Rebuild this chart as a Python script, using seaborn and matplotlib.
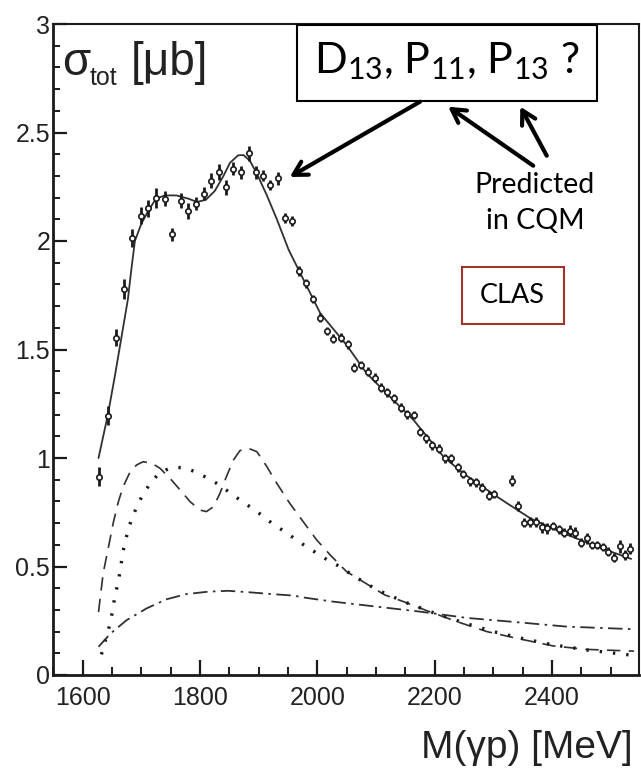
import numpy as np
import pandas as pd
import matplotlib
matplotlib.use("Agg")
import matplotlib.pyplot as plt
import matplotlib.patches as mpatches
from matplotlib.ticker import MultipleLocator
import seaborn as sns

# ---------------- data ----------------
data_x = [1627, 1643, 1657, 1671, 1684, 1699, 1712, 1725, 1740, 1752, 1767, 1780, 1793,
          1806, 1819, 1832, 1844, 1857, 1870, 1883, 1895, 1908, 1919, 1933, 1945, 1957,
          1969, 1981, 1993, 2005, 2017, 2027, 2040, 2052, 2063, 2074, 2086, 2098, 2109,
          2119, 2131, 2142, 2153, 2164, 2175, 2185, 2196, 2207, 2217, 2228, 2239, 2249,
          2260, 2271, 2281, 2292, 2301, 2332, 2342, 2352, 2363, 2372, 2383, 2392, 2402,
          2412, 2421, 2431, 2440, 2450, 2459, 2468, 2477, 2487, 2496, 2506, 2516, 2525, 2533]
data_y = [0.914, 1.195, 1.555, 1.779, 2.014, 2.117, 2.150, 2.197, 2.194, 2.032, 2.186, 2.138, 2.172,
          2.217, 2.277, 2.318, 2.247, 2.332, 2.317, 2.404, 2.317, 2.301, 2.258, 2.289, 2.106, 2.092,
          1.862, 1.805, 1.733, 1.647, 1.585, 1.550, 1.554, 1.524, 1.416, 1.429, 1.398, 1.370, 1.324,
          1.303, 1.275, 1.232, 1.201, 1.198, 1.120, 1.091, 1.058, 1.043, 0.998, 0.999, 0.957, 0.926,
          0.893, 0.888, 0.863, 0.826, 0.834, 0.895, 0.779, 0.702, 0.705, 0.705, 0.680, 0.676, 0.687,
          0.671, 0.656, 0.664, 0.656, 0.610, 0.630, 0.599, 0.599, 0.590, 0.568, 0.541, 0.594, 0.553, 0.581]
data_err = [0.045, 0.045, 0.040, 0.045, 0.040, 0.040, 0.040, 0.045, 0.035, 0.030, 0.035, 0.035, 0.030,
            0.030, 0.035, 0.035, 0.035, 0.030, 0.030, 0.035, 0.030, 0.025, 0.025, 0.030, 0.025, 0.025,
            0.025, 0.020, 0.020, 0.020, 0.020, 0.020, 0.020, 0.020, 0.020, 0.020, 0.020, 0.020, 0.020,
            0.020, 0.020, 0.020, 0.020, 0.020, 0.020, 0.020, 0.020, 0.020, 0.020, 0.020, 0.020, 0.020,
            0.020, 0.020, 0.020, 0.020, 0.020, 0.025, 0.025, 0.020, 0.025, 0.025, 0.025, 0.025, 0.020,
            0.020, 0.020, 0.025, 0.025, 0.020, 0.025, 0.020, 0.020, 0.020, 0.020, 0.020, 0.030, 0.025, 0.025]

fit_x = [1627, 1643, 1655, 1666, 1677, 1683, 1689, 1700, 1712, 1725, 1740, 1760, 1780, 1795, 1810,
         1825, 1840, 1851, 1865, 1874, 1885, 1897, 1914, 1931, 1951, 1969, 2005, 2050, 2084, 2118,
         2164, 2215, 2249, 2306, 2363, 2420, 2477, 2535]
fit_y = [1.00, 1.20, 1.38, 1.555, 1.73, 1.87, 2.00, 2.08, 2.14, 2.195, 2.21, 2.21, 2.195, 2.18, 2.19,
         2.23, 2.30, 2.36, 2.395, 2.396, 2.37, 2.31, 2.21, 2.10, 1.96, 1.862, 1.667, 1.52, 1.39, 1.298,
         1.175, 1.006, 0.929, 0.822, 0.722, 0.653, 0.591, 0.535]

dash_x = [1627, 1635, 1644, 1652, 1661, 1669, 1681, 1692, 1703, 1718, 1732, 1749, 1766, 1783, 1800,
          1811, 1823, 1834, 1845, 1857, 1868, 1882, 1897, 1914, 1931, 1953, 1976, 1999, 2022, 2050,
          2084, 2115, 2147, 2187, 2238, 2289, 2340, 2402, 2459, 2540]
dash_y = [0.29, 0.47, 0.59, 0.70, 0.80, 0.868, 0.937, 0.968, 0.983, 0.976, 0.952, 0.906, 0.853, 0.799, 0.760,
          0.753, 0.776, 0.837, 0.914, 0.991, 1.034, 1.045, 1.029, 0.960, 0.883, 0.791, 0.706, 0.622, 0.553, 0.476,
          0.420, 0.369, 0.338, 0.296, 0.246, 0.200, 0.169, 0.134, 0.118, 0.110]

dot_x = [1632, 1646, 1651, 1655, 1661, 1665, 1669, 1675, 1682, 1691, 1702, 1716, 1731, 1752, 1774,
         1793, 1814, 1833, 1851, 1870, 1889, 1907, 1925, 1945, 1963, 1982, 2001, 2019, 2039, 2060,
         2100, 2150, 2200, 2250, 2300, 2350, 2400, 2460, 2540]
dot_y = [0.095, 0.23, 0.296, 0.365, 0.433, 0.502, 0.573, 0.641, 0.707, 0.768, 0.829, 0.886, 0.932, 0.957, 0.955,
         0.935, 0.906, 0.876, 0.840, 0.803, 0.768, 0.733, 0.694, 0.660, 0.625, 0.590, 0.558, 0.527, 0.499, 0.46,
         0.395, 0.335, 0.285, 0.240, 0.200, 0.168, 0.140, 0.115, 0.090]

dd_x = [1627, 1647, 1675, 1709, 1743, 1777, 1814, 1848, 1885, 1922, 1959, 1982, 2027, 2101, 2175,
        2255, 2329, 2425, 2540]
dd_y = [0.13, 0.19, 0.253, 0.307, 0.349, 0.373, 0.384, 0.388, 0.381, 0.373, 0.366, 0.355, 0.338, 0.315, 0.292,
        0.263, 0.246, 0.223, 0.211]

x_ticks = [1600, 1800, 2000, 2200, 2400]
y_ticks = [0, 0.5, 1, 1.5, 2, 2.5, 3]
y_tick_labels = ["0", "0.5", "1", "1.5", "2", "2.5", "3"]

# ---------------- style ----------------
sns.set_theme(style="ticks")
plt.rcParams["font.family"] = ["Liberation Sans", "DejaVu Sans"]
plt.rcParams["mathtext.fontset"] = "custom"
plt.rcParams["mathtext.rm"] = "Lato"
plt.rcParams["mathtext.it"] = "Lato:italic"

W, H = 641, 771
fig = plt.figure(figsize=(W / 100, H / 100), dpi=100)
ax = fig.add_axes([53 / W, 1 - 675 / H, (639 - 53) / W, (675 - 24) / H])

ink = "#1a1a1a"
curve_col = "#303030"

# curves
sns.lineplot(x=fit_x, y=fit_y, ax=ax, color=curve_col, lw=1.3, sort=False, estimator=None)
sns.lineplot(x=dash_x, y=dash_y, ax=ax, color=curve_col, lw=1.2, dashes=(8, 5), sort=False, estimator=None)
sns.lineplot(x=dot_x, y=dot_y, ax=ax, color=ink, lw=2.4, dashes=(0.7, 3.3), sort=False, estimator=None)
sns.lineplot(x=dd_x, y=dd_y, ax=ax, color=curve_col, lw=1.3, dashes=(8, 3, 1.4, 3), sort=False, estimator=None)

# data points
ax.errorbar(data_x, data_y, yerr=data_err, fmt="none", ecolor=ink, elinewidth=2.0, zorder=4)
sns.scatterplot(x=data_x, y=data_y, ax=ax, s=15, marker="o", facecolor="white",
                edgecolor=ink, linewidth=1.2, zorder=5)

# axes
ax.set_xlim(1549.4, 2548.3)
ax.set_ylim(0, 3)
ax.set_xticks(x_ticks)
ax.set_yticks(y_ticks)
ax.set_yticklabels(y_tick_labels)
ax.xaxis.set_minor_locator(MultipleLocator(50))
ax.yaxis.set_minor_locator(MultipleLocator(0.1))
ax.tick_params(axis="both", which="both", direction="in", color=ink, labelcolor="#222222",
               labelsize=18, top=False, right=False)
ax.tick_params(axis="x", which="major", length=11, width=1.6, pad=8)
ax.tick_params(axis="x", which="minor", length=6, width=1.4)
ax.tick_params(axis="y", which="major", length=10, width=1.6, pad=2)
ax.tick_params(axis="y", which="minor", length=5, width=1.4)
for side in ["left", "bottom"]:
    ax.spines[side].set_linewidth(2.0)
    ax.spines[side].set_color(ink)
for side in ["top", "right"]:
    ax.spines[side].set_visible(True)
    ax.spines[side].set_linewidth(1.5)
    ax.spines[side].set_color(ink)
ax.set_xlabel("")
ax.set_ylabel("")

# axis titles
fig.text(62 / W, 1 - 75 / H, "σ", fontsize=33, color="#222222", ha="left", va="baseline")
fig.text(90 / W, 1 - 85 / H, "tot", fontsize=18, color="#222222", ha="left", va="baseline")
fig.text(131 / W, 1 - 75 / H, "[μb]", fontsize=33, color="#222222", ha="left", va="baseline")
fig.text(633 / W, 1 - 758 / H, "M(γp) [MeV]", fontsize=28, color="#222222", ha="right", va="baseline")

# annotation box
box = mpatches.Rectangle((1965, 2.647), 2477 - 1965, 2.995 - 2.647, facecolor="white",
                         edgecolor="black", lw=1.5, zorder=6, clip_on=False)
ax.add_patch(box)
ax.text(2221, 2.83, r"D$_{13}$, P$_{11}$, P$_{13}$ ?", fontsize=31, family="Lato",
        ha="center", va="center", color="black", zorder=7)

arrow_kw = dict(arrowstyle="->,head_length=0.8,head_width=0.45", lw=3, color="black",
                shrinkA=0, shrinkB=0)
ax.annotate("", xy=(1953, 2.295), xytext=(2175, 2.642), arrowprops=arrow_kw, zorder=7)
ax.annotate("", xy=(2223, 2.619), xytext=(2368, 2.347), arrowprops=arrow_kw, zorder=7)
ax.annotate("", xy=(2346, 2.619), xytext=(2391, 2.393), arrowprops=arrow_kw, zorder=7)

ax.text(2371, 2.175, "Predicted\nin CQM", fontsize=20.5, family="Lato", ha="center", va="center",
        linespacing=1.45, color="black")

clas = mpatches.Rectangle((2246, 1.618), 2420.5 - 2246, 1.882 - 1.618, facecolor="white",
                          edgecolor="#a0342a", lw=1.5, zorder=6)
ax.add_patch(clas)
ax.text(2333, 1.75, "CLAS", fontsize=19.5, family="Lato", ha="center", va="center", color="black", zorder=7)

fig.savefig("out.png", dpi=100, facecolor="white")
